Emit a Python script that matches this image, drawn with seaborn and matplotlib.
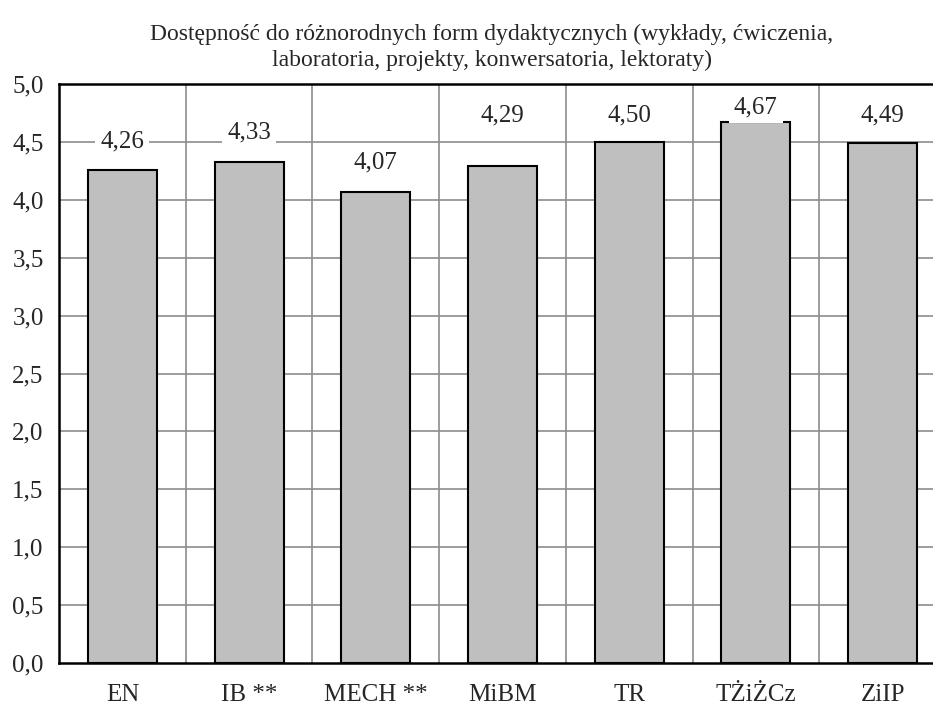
import matplotlib
matplotlib.use("Agg")
import matplotlib.pyplot as plt
import seaborn as sns
import pandas as pd

categories = ["EN", "IB **", "MECH **", "MiBM", "TR", "TŻiŻCz", "ZiIP"]
values = [4.26, 4.33, 4.07, 4.29, 4.50, 4.67, 4.49]
value_labels = ["4,26", "4,33", "4,07", "4,29", "4,50", "4,67", "4,49"]
label_y = [4.50, 4.58, 4.32, 4.73, 4.73, 4.80, 4.73]
y_ticks = [0.0, 0.5, 1.0, 1.5, 2.0, 2.5, 3.0, 3.5, 4.0, 4.5, 5.0]
y_tick_labels = ["0,0", "0,5", "1,0", "1,5", "2,0", "2,5", "3,0", "3,5", "4,0", "4,5", "5,0"]
title = "Dostępność do różnorodnych form dydaktycznych (wykłady, ćwiczenia,\nlaboratoria, projekty, konwersatoria, lektoraty)"

sns.set_theme(style="white")
plt.rcParams["font.family"] = ["Liberation Serif", "DejaVu Serif"]

df = pd.DataFrame({"cat": categories, "val": values})

fig = plt.figure(figsize=(9.33, 7.04), dpi=100)
W, H = 933, 704
ax = fig.add_axes([59 / W, (H - 663) / H, (946 - 59) / W, (663 - 84) / H])

sns.barplot(data=df, x="cat", y="val", ax=ax, color="#BFBFBF", width=0.545,
            edgecolor="black", linewidth=1.5, saturation=1, zorder=2)

fs = 18
ax.set_ylim(0, 5)
ax.set_xlim(-0.5, len(categories) - 0.5)
ax.set_yticks(y_ticks)
ax.set_yticklabels(y_tick_labels, fontsize=fs)
ax.set_xticks(range(len(categories)))
ax.set_xticklabels(categories, fontsize=fs)
ax.tick_params(axis="x", length=0, pad=15)
ax.tick_params(axis="y", length=0, pad=11)
ax.set_xlabel("")
ax.set_ylabel("")

# grid lines
for y in y_ticks[1:-1]:
    ax.axhline(y, color="#8C8C8C", linewidth=1.2, zorder=0)
for i in range(len(categories) - 1):
    ax.axvline(i + 0.5, color="#8C8C8C", linewidth=1.2, zorder=0)

for s in ["top", "left", "bottom"]:
    ax.spines[s].set_visible(True)
    ax.spines[s].set_color("black")
    ax.spines[s].set_linewidth(1.8)
ax.spines["right"].set_visible(False)

for i, (lab, ly) in enumerate(zip(value_labels, label_y)):
    ax.text(i, ly, lab, ha="center", va="center", fontsize=fs, zorder=5,
            bbox=dict(boxstyle="square,pad=0.2", facecolor="white", edgecolor="none"))

fig.text(492 / W, 1 - 47 / H, title, ha="center", va="center", fontsize=17, linespacing=1.3)

fig.savefig("out.png", dpi=100)
